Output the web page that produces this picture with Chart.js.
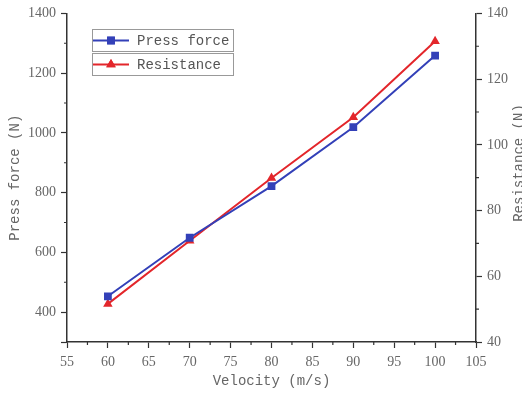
<!DOCTYPE html>
<html>
<head>
<meta charset="utf-8">
<script src="https://cdn.jsdelivr.net/npm/chart.js@4"></script>
<style>
  html, body { margin: 0; padding: 0; background: #fff; }
  #wrap { width: 522px; height: 395px; position: relative; }
</style>
</head>
<body>
<div id="wrap"><canvas id="chart"></canvas></div>
<script>
// data
const velocity = [60, 70, 80, 90, 100];
const pressForce = [453, 649, 822, 1019, 1259];
const resistance = [51.6, 70.8, 89.9, 108.4, 131.5];

const xTicks = [55, 60, 65, 70, 75, 80, 85, 90, 95, 100, 105];
const leftTicks = [300, 400, 600, 800, 1000, 1200, 1400];
const rightTicks = [40, 60, 80, 100, 120, 140];

const axisColor = '#333';
const textColor = '#666';
const monoFont = '"Liberation Mono", "DejaVu Sans Mono", monospace';
const serifFont = '"Liberation Serif", "DejaVu Serif", serif';
const blue = '#3340b8';
const red = '#e3262b';

const fixTicks = (vals) => (scale) => {
  scale.ticks = vals.map(v => ({ value: v }));
};

function axis(extra, pad) {
  return Object.assign({
    type: 'linear',
    grid: { drawOnChartArea: false, drawTicks: true, tickLength: 6, tickColor: axisColor, tickWidth: 1.2 },
    border: { display: true, color: axisColor, width: 1.5 },
    ticks: {
      color: textColor, font: { family: serifFont, size: 14 }, padding: pad,
      callback: (v) => (v === 300 ? '' : v)
    }
  }, extra);
}

// minor ticks halfway between majors, right axis title, boxed legend
const extras = {
  id: 'extras',
  afterDraw(chart) {
    const ctx = chart.ctx;
    const { x, y, y1 } = chart.scales;
    ctx.save();
    ctx.strokeStyle = axisColor;
    ctx.lineWidth = 1.2;
    ctx.beginPath();
    for (let v = 57.5; v < 105; v += 5) {
      const px = x.getPixelForValue(v);
      ctx.moveTo(px, x.top); ctx.lineTo(px, x.top + 3);
    }
    for (let v = 500; v < 1400; v += 200) {
      const py = y.getPixelForValue(v);
      ctx.moveTo(y.right, py); ctx.lineTo(y.right - 3, py);
    }
    for (let v = 50; v < 140; v += 20) {
      const py = y1.getPixelForValue(v);
      ctx.moveTo(y1.left, py); ctx.lineTo(y1.left + 3, py);
    }
    ctx.stroke();

    // right title, reads bottom to top like the left one
    ctx.save();
    ctx.translate(519, 163);
    ctx.rotate(-Math.PI / 2);
    ctx.fillStyle = textColor;
    ctx.font = '14px ' + monoFont;
    ctx.textAlign = 'center';
    ctx.textBaseline = 'middle';
    ctx.fillText('Resistance (N)', 0, 0);
    ctx.restore();

    // legend
    const boxes = [[29, 0], [53, 1]];
    boxes.forEach(([top, i]) => {
      const ds = chart.data.datasets[i];
      ctx.strokeStyle = '#999';
      ctx.lineWidth = 1;
      ctx.strokeRect(92.5, top + 0.5, 141, 22);
      const cy = top + 11.5;
      ctx.strokeStyle = ds.borderColor;
      ctx.lineWidth = 2;
      ctx.beginPath();
      ctx.moveTo(93, cy); ctx.lineTo(129, cy);
      ctx.stroke();
      ctx.fillStyle = ds.backgroundColor;
      Chart.helpers.drawPoint(ctx, { pointStyle: ds.pointStyle, radius: ds.pointRadius, borderWidth: 0 }, 111, cy);
      ctx.fill();
      ctx.fillStyle = '#555';
      ctx.font = '14px ' + monoFont;
      ctx.textAlign = 'left';
      ctx.textBaseline = 'middle';
      ctx.fillText(ds.label, 137, cy + 1);
    });
    ctx.restore();
  }
};

new Chart(document.getElementById('chart'), {
  type: 'line',
  data: {
    datasets: [
      {
        label: 'Press force',
        data: velocity.map((v, i) => ({ x: v, y: pressForce[i] })),
        yAxisID: 'y',
        borderColor: blue,
        backgroundColor: blue,
        borderWidth: 2,
        pointStyle: 'rect',
        pointRadius: 5.5,
        pointBorderWidth: 0,
        tension: 0
      },
      {
        label: 'Resistance',
        data: velocity.map((v, i) => ({ x: v, y: resistance[i] })),
        yAxisID: 'y1',
        borderColor: red,
        backgroundColor: red,
        borderWidth: 2,
        pointStyle: 'triangle',
        pointRadius: 5.5,
        pointBorderWidth: 0,
        tension: 0
      }
    ]
  },
  options: {
    responsive: true,
    maintainAspectRatio: false,
    animation: false,
    layout: { padding: { top: 12, right: 0, left: 0, bottom: 0 } },
    plugins: { legend: { display: false }, tooltip: { enabled: false } },
    scales: {
      x: axis({
        position: 'bottom',
        min: 55, max: 105,
        afterBuildTicks: fixTicks(xTicks),
        afterFit: (s) => { s.height = 53; },
        title: {
          display: true, text: 'Velocity (m/s)', color: textColor,
          font: { family: monoFont, size: 14 }, padding: { top: 0, bottom: 5 }
        }
      }, 6),
      y: axis({
        position: 'left',
        min: 300, max: 1400,
        afterBuildTicks: fixTicks(leftTicks),
        afterFit: (s) => { s.width = 67; },
        title: {
          display: true, text: 'Press force (N)', color: textColor,
          font: { family: monoFont, size: 14 }, padding: { top: 7, bottom: 0 }
        }
      }, 5),
      y1: axis({
        position: 'right',
        min: 40, max: 140,
        afterBuildTicks: fixTicks(rightTicks),
        afterFit: (s) => { s.width = 46; }
      }, 5)
    }
  },
  plugins: [extras]
});
</script>
</body>
</html>
